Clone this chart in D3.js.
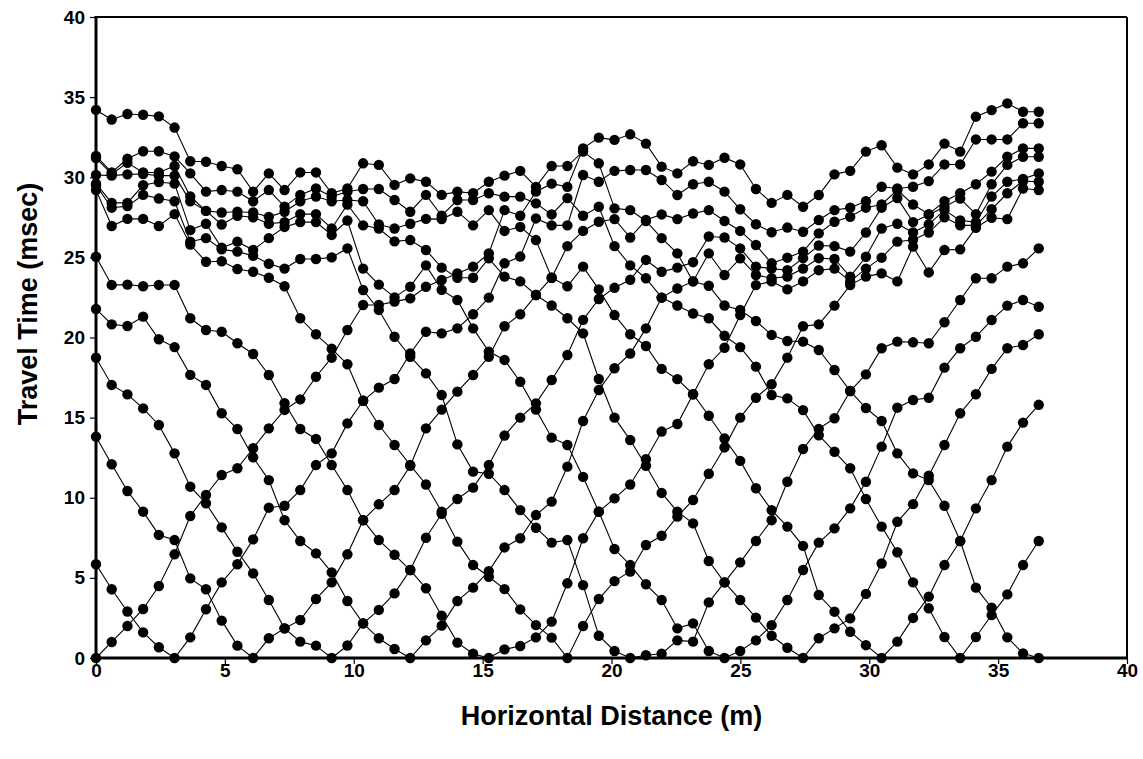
<!DOCTYPE html>
<html><head><meta charset="utf-8">
<script src="https://d3js.org/d3.v7.min.js"></script>
<style>html,body{margin:0;padding:0;background:#fff;}svg{display:block;}</style>
</head><body>
<svg id="chart" width="1143" height="759"></svg>
<script>
const xTicks=[0,5,10,15,20,25,30,35,40];
const yTicks=[0,5,10,15,20,25,30,35,40];
const receiverSpacing=0.6096;
const S0=[0,1.0,2.0,3.06,4.49,6.47,8.86,10.17,11.42,11.84,13.09,14.33,15.48,16.14,17.55,18.74,20.47,22.03,22.03,22.24,22.44,23.17,23.59,24.0,24.42,25.25,27.95,27.6,29.1,29.6,29.4,31.8,32.47,32.33,32.68,32.1,30.66,30.24,31.0,30.77,31.22,30.8,29.27,28.4,28.9,28.16,28.89,30.18,30.4,31.6,32.0,30.6,30.18,30.8,32.1,31.6,33.78,34.19,34.61,34.09,34.09];
const S1=[5.85,4.29,2.9,1.6,0.67,0,1.29,3.04,4.72,5.85,7.4,9.38,9.5,10.48,12.04,12.77,14.64,16.05,16.87,17.41,19.0,20.36,20.26,20.57,21.45,22.49,24.63,25.05,27.43,27.0,27.0,30.14,29.72,30.4,30.45,30.45,29.83,28.89,29.56,29.72,29.1,28.0,27.07,26.57,26.86,26.6,27.33,27.95,28.1,28.5,29.41,29.3,29.41,29.76,30.8,30.8,32.36,32.36,32.36,33.37,33.37];
const S2=[13.81,12.09,10.42,9.13,7.68,7.36,4.97,4.29,2.33,0.77,0,1.23,1.85,2.37,3.68,4.72,6.47,8.6,9.59,10.48,12.0,14.33,15.5,16.62,17.66,18.8,20.7,21.45,22.65,23.73,25.7,26.65,27.22,27.39,26.24,27.33,27.68,27.39,27.74,27.95,27.27,26.65,25.77,24.63,24.98,25.36,26.5,27.22,27.53,28.1,28.3,29.2,28.3,27.7,28.5,29.0,29.56,30.35,31.28,31.8,31.8];
const S3=[18.74,17.04,16.45,15.58,14.54,12.77,10.69,9.65,8.15,6.63,5.28,3.62,1.85,1.02,0.77,0,0.78,2.16,3.0,4.03,5.49,7.5,9.0,9.92,10.63,12.04,13.88,15.0,15.89,17.35,18.91,21.1,22.4,23.1,23.6,24.84,24.1,24.36,24.7,26.3,26.24,25.56,24.42,24.3,24.2,24.95,25.74,25.7,25.36,26.55,28.1,28.7,27.2,27.65,28.16,28.67,27.7,29.56,30.77,31.28,31.28];
const S4=[21.78,20.82,20.72,21.3,19.89,19.4,17.67,17.04,15.27,14.29,12.52,11.1,8.6,7.3,6.53,5.34,3.56,2.16,1.23,0.56,0,1.1,2.02,3.56,4.39,5.42,6.9,7.47,8.92,9.76,11.94,14.79,16.72,18.08,19.0,20.57,22.49,23.06,23.5,25.25,23.9,24.94,23.9,23.7,23.8,24.3,24.95,24.9,23.8,25.04,26.8,27.1,26.55,27.06,27.95,27.3,27.2,28.8,29.72,29.9,30.24];
const S5=[25.04,23.28,23.3,23.2,23.28,23.28,21.2,20.47,20.36,19.64,18.97,17.66,15.9,14.29,13.67,12.04,10.48,8.6,7.36,6.44,5.49,4.35,2.64,0.96,0.27,0,0.54,0.75,1.29,2.27,4.66,7.47,9.13,9.96,10.83,12.4,14.13,14.6,16.46,18.33,19.36,21.4,23.27,23.5,23.0,23.5,24.2,24.3,23.5,24.3,24.98,25.98,26.1,26.55,27.5,27.0,27.0,28.0,29.0,29.76,29.72];
const S6=[29.2,26.96,27.4,27.4,26.96,27.7,25.8,24.73,24.76,24.27,24.1,23.73,23.2,21.2,20.2,19.3,18.33,16.05,14.54,13.29,12.04,10.83,9.13,7.26,5.8,5.07,4.3,3.03,2.05,1.27,0,2.0,3.68,4.8,5.4,7.05,7.63,8.82,9.86,11.5,13.14,15.0,16.24,17.08,18.74,20.7,20.82,21.99,23.27,23.8,24.0,23.5,25.67,24.06,25.46,25.5,26.85,27.47,27.39,29.3,29.2];
const S7=[29.5,28.1,28.2,28.9,28.67,28.5,25.98,26.2,25.5,25.36,25.1,24.6,24.3,24.9,24.9,25.0,25.56,22.96,21.72,20.05,18.8,17.76,16.41,13.33,11.63,11.5,10.48,9.23,8.13,7.2,7.36,4.55,1.39,0.44,0,0.17,0.27,1.1,1.02,3.47,4.72,5.97,7.3,8.6,11.0,13.04,14.3,14.96,16.66,17.7,19.33,19.74,19.7,19.64,20.95,22.34,23.7,23.7,24.42,24.63,25.56];
const S8=[29.6,28.4,28.4,29.5,29.7,29.6,26.7,27.1,25.6,25.98,25.46,26.2,26.9,27.2,27.2,26.4,27.3,24.3,23.3,22.5,23.17,24.5,22.97,22.34,20.57,19.12,18.6,17.24,15.5,13.75,13.29,11.3,9.13,6.8,5.8,4.6,3.62,1.85,2.16,0.44,0,0.44,1.1,2.05,3.62,5.49,7.2,8.09,9.34,11.0,13.19,15.62,16.1,16.24,18.12,19.33,20.05,21.09,21.99,22.34,21.92];
const S9=[30.14,30.1,30.18,30.2,30.1,30.1,28.5,27.9,27.05,27.6,27.5,27.1,27.2,27.7,27.7,26.8,28.3,27.0,26.8,26.0,26.08,25.46,24.36,23.73,23.73,24.94,23.8,23.5,22.65,22.0,21.2,20.26,17.41,15.0,13.6,12.0,10.3,9.13,8.4,6.05,4.72,3.62,2.52,1.39,0.64,0,1.23,1.85,2.47,4.0,5.9,8.5,9.6,11.38,13.29,15.27,16.46,18.04,19.33,19.53,20.2];
const S10=[31.2,30.2,30.9,30.3,30.3,30.7,28.8,27.9,27.8,27.85,27.8,27.53,27.85,28.5,28.8,28.5,28.58,28.5,27.05,26.8,27.1,27.4,27.39,27.85,27.0,27.95,26.65,26.9,26.08,23.73,23.2,24.42,23.0,21.4,20.2,19.47,18.04,17.4,16.46,15.12,13.7,12.3,10.59,9.23,8.2,7.0,3.93,2.89,1.64,0.8,0,1.02,2.5,3.83,5.8,7.3,9.34,11.1,13.19,14.69,15.8];
const S11=[31.33,30.3,31.15,31.62,31.62,31.3,30.24,29.1,29.2,29.1,28.5,29.2,28.17,28.9,29.3,28.79,29.1,29.27,29.27,28.58,27.85,28.9,27.6,28.58,28.58,29.0,28.79,28.79,28.37,27.68,28.7,27.6,28.16,25.7,24.5,23.7,22.49,22.0,21.5,21.2,20.11,19.4,18.18,16.41,16.2,15.47,13.9,12.87,11.84,9.92,8.2,6.6,4.72,3.1,1.31,0,1.31,2.68,3.97,5.8,7.3];
const S12=[34.2,33.6,33.95,33.9,33.8,33.1,31.0,30.97,30.7,30.5,29.1,30.24,29.2,30.3,30.3,29.0,29.3,30.87,30.77,29.52,29.93,29.72,28.9,29.1,29.0,29.72,30.1,30.4,29.4,30.7,30.7,31.6,30.87,28.06,27.95,27.27,26.2,25.25,23.5,23.23,22.0,21.72,21.03,20.16,19.78,19.74,19.22,17.97,16.66,15.6,14.79,12.77,11.52,11.1,9.5,7.3,4.39,3.14,1.29,0.29,0];
const series=[S0,S1,S2,S3,S4,S5,S6,S7,S8,S9,S10,S11,S12];

const svg=d3.select("#chart");
const L=96,R=1127,T=17,B=658;
const x=d3.scaleLinear().domain([0,40]).range([L,R]);
const y=d3.scaleLinear().domain([0,40]).range([B,T]);
const font="'Liberation Sans', Arial, sans-serif";

const g=svg.append("g");
const line=d3.line().x((d,i)=>x(i*receiverSpacing)).y(d=>y(d));
series.forEach(s=>{
  g.append("path").attr("d",line(s)).attr("fill","none").attr("stroke","#000").attr("stroke-width",1.1);
});
// frame: thin top/right, heavier left/bottom
svg.append("line").attr("x1",L).attr("x2",R).attr("y1",T).attr("y2",T).attr("stroke","#000").attr("stroke-width",2);
svg.append("line").attr("x1",R).attr("x2",R).attr("y1",T).attr("y2",B).attr("stroke","#000").attr("stroke-width",2);
svg.append("line").attr("x1",L).attr("x2",L).attr("y1",T-1).attr("y2",B+1.5).attr("stroke","#000").attr("stroke-width",3);
svg.append("line").attr("x1",L-1.5).attr("x2",R+1).attr("y1",B).attr("y2",B).attr("stroke","#000").attr("stroke-width",3);
const xAxis=d3.axisBottom(x).tickValues(xTicks).tickSize(6).tickPadding(0).tickFormat(d3.format("d"));
const yAxis=d3.axisLeft(y).tickValues(yTicks).tickSize(6).tickPadding(5).tickFormat(d3.format("d"));
const gx=svg.append("g").attr("transform",`translate(0,${B})`).call(xAxis);
const gy=svg.append("g").attr("transform",`translate(${L},0)`).call(yAxis);
[gx,gy].forEach(a=>{
  a.select(".domain").remove();
  a.selectAll(".tick line").attr("stroke","#000").attr("stroke-width",1.2);
  a.selectAll(".tick text").attr("font-family",font).attr("font-weight","bold").attr("font-size",19).attr("fill","#000");
});
series.forEach(s=>{
  g.selectAll(null).data(s).enter().append("circle")
   .attr("cx",(d,i)=>x(i*receiverSpacing)).attr("cy",d=>y(d)).attr("r",5.2).attr("fill","#000");
});
g.raise();
svg.append("text").attr("x",(L+R)/2).attr("y",725).attr("text-anchor","middle")
  .attr("font-family",font).attr("font-weight","bold").attr("font-size",27).text("Horizontal Distance (m)");
svg.append("text").attr("transform",`translate(28,304) rotate(-90)`).attr("text-anchor","middle")
  .attr("dominant-baseline","central")
  .attr("font-family",font).attr("font-weight","bold").attr("font-size",27).text("Travel Time (msec)");
</script>
</body></html>
